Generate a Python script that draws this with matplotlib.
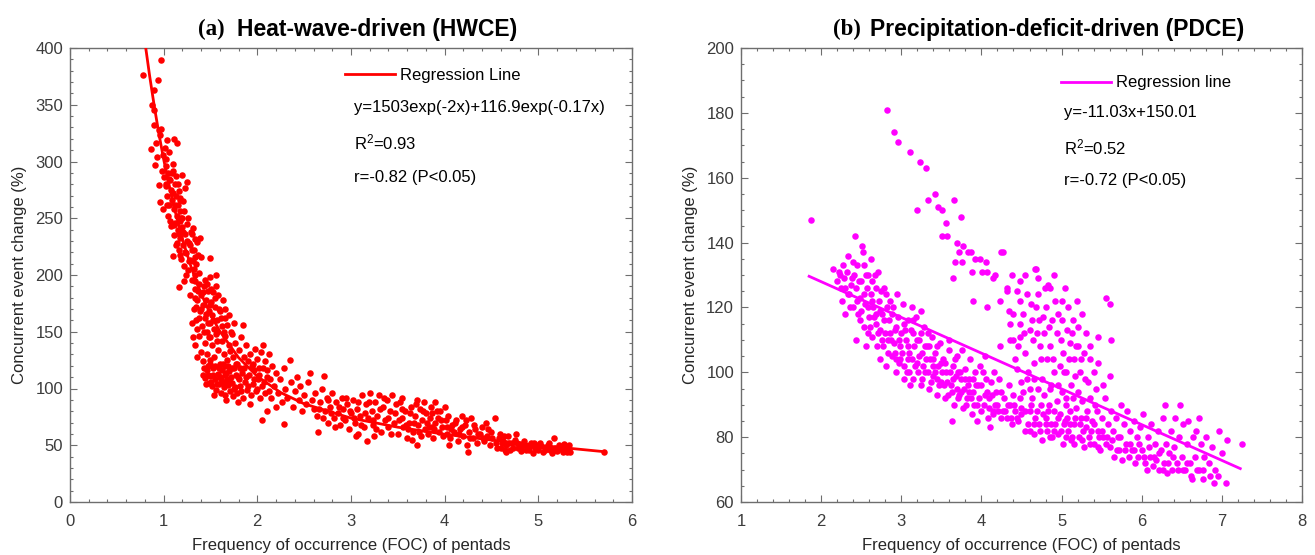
import numpy as np
import matplotlib
matplotlib.use("Agg")
import matplotlib.pyplot as plt
from matplotlib.ticker import MultipleLocator

plt.rcParams['font.family'] = ['Liberation Sans', 'DejaVu Sans']
plt.rcParams['mathtext.default'] = 'regular'

# ---- data: (FOC, change %) ----
hwce_points = [
    (0.78, 376), (0.97, 389), (0.94, 372), (0.90, 363), (0.88, 350), (0.90, 345), (0.90, 332),
    (0.95, 328), (0.97, 329), (0.96, 323), (0.87, 311), (0.92, 316), (0.93, 304), (1.04, 319),
    (1.11, 320), (1.14, 316), (1.01, 312), (0.99, 306), (1.03, 302), (1.06, 308),
    (0.91, 297), (0.95, 279), (0.96, 264), (0.99, 258), (0.98, 292), (1.00, 286), (1.02, 296),
    (1.03, 280), (1.04, 270), (1.05, 290), (1.06, 262), (1.07, 284), (1.08, 275), (1.09, 266),
    (1.10, 292), (1.11, 258), (1.12, 280), (1.13, 270), (1.14, 252), (1.15, 262), (1.16, 274),
    (1.17, 256), (1.20, 288), (1.25, 282), (1.23, 277), (1.21, 265), (1.05, 252), (1.10, 298),
    (1.18, 268), (1.13, 287),
    (1.08, 243), (1.10, 217), (1.11, 235), (1.12, 246), (1.14, 228), (1.15, 240), (1.16, 222),
    (1.17, 248), (1.18, 233), (1.19, 214), (1.20, 242), (1.21, 226), (1.22, 208), (1.23, 236),
    (1.24, 219), (1.25, 245), (1.26, 204), (1.27, 228), (1.28, 213), (1.29, 238), (1.31, 241),
    (1.30, 222), (1.32, 205), (1.34, 216), (1.36, 229), (1.39, 233), (1.40, 216), (1.50, 215),
    (1.56, 200), (1.38, 202), (1.20, 250), (1.24, 200), (1.33, 232),
    (1.02, 278), (1.04, 262), (1.06, 285), (1.07, 248), (1.09, 290), (1.10, 272), (1.11, 244),
    (1.12, 262), (1.13, 226), (1.15, 280), (1.16, 236), (1.17, 266), (1.18, 218), (1.19, 250),
    (1.21, 238), (1.22, 256), (1.23, 220), (1.25, 230), (1.26, 250), (1.27, 212), (1.28, 226),
    (1.30, 236), (1.31, 212), (1.32, 222), (1.33, 200), (1.35, 210), (1.37, 218), (1.34, 195),
    (1.16, 189), (1.22, 195), (1.28, 182), (1.30, 196), (1.32, 170), (1.34, 188), (1.35, 160),
    (1.36, 178), (1.38, 192), (1.39, 168), (1.40, 182), (1.41, 155), (1.42, 174), (1.43, 190),
    (1.44, 162), (1.45, 178), (1.46, 150), (1.47, 186), (1.48, 168), (1.49, 198), (1.50, 158),
    (1.51, 176), (1.52, 165), (1.53, 185), (1.54, 152), (1.55, 172), (1.57, 160), (1.58, 182),
    (1.60, 168), (1.62, 155), (1.63, 178), (1.65, 162), (1.36, 152), (1.30, 158), (1.44, 196),
    (1.56, 190),
    (1.33, 180), (1.35, 172), (1.37, 186), (1.38, 162), (1.40, 170), (1.42, 185), (1.43, 150),
    (1.45, 166), (1.46, 192), (1.47, 158), (1.49, 174), (1.50, 145), (1.51, 188), (1.53, 160),
    (1.55, 180), (1.57, 150), (1.59, 170), (1.61, 162), (1.64, 150), (1.66, 170), (1.68, 156),
    (1.70, 165), (1.73, 148), (1.75, 158),
    (1.31, 145), (1.34, 138), (1.36, 128), (1.38, 146), (1.40, 132), (1.42, 124), (1.44, 140),
    (1.46, 130), (1.48, 145), (1.50, 125), (1.52, 138), (1.54, 128), (1.56, 148), (1.58, 134),
    (1.60, 122), (1.62, 142), (1.64, 130), (1.66, 146), (1.68, 125), (1.70, 138), (1.72, 150),
    (1.74, 128), (1.76, 140), (1.78, 122), (1.80, 134), (1.83, 145), (1.85, 156), (1.86, 128),
    (1.88, 138), (1.90, 124), (1.47, 120), (1.57, 142), (1.65, 120), (1.71, 133),
    (1.42, 112), (1.44, 109), (1.46, 116), (1.48, 105), (1.50, 111), (1.52, 102), (1.53, 118),
    (1.55, 108), (1.56, 99), (1.58, 113), (1.59, 104), (1.60, 110), (1.61, 96), (1.62, 116),
    (1.63, 106), (1.64, 101), (1.65, 112), (1.66, 94), (1.67, 90), (1.68, 108), (1.69, 103),
    (1.70, 115), (1.71, 98), (1.72, 110), (1.73, 105), (1.74, 93), (1.75, 118), (1.76, 101),
    (1.77, 112), (1.78, 96), (1.80, 108), (1.82, 102), (1.84, 114), (1.85, 92), (1.87, 106),
    (1.89, 99), (1.91, 112), (1.93, 94), (1.95, 104), (1.97, 116), (1.99, 98), (2.01, 108),
    (2.03, 92), (2.05, 102), (2.06, 118), (2.08, 96), (2.10, 110), (1.54, 94), (1.79, 88),
    (1.92, 86),
    (1.43, 118), (1.45, 104), (1.47, 112), (1.49, 122), (1.51, 106), (1.53, 112), (1.55, 120),
    (1.57, 104), (1.59, 118), (1.61, 108), (1.63, 122), (1.65, 104), (1.67, 114), (1.69, 120),
    (1.71, 106), (1.73, 118), (1.75, 100), (1.77, 122), (1.79, 110), (1.81, 118), (1.83, 98),
    (1.86, 118), (1.88, 110), (1.90, 102), (1.94, 120), (1.96, 108), (2.00, 100), (2.02, 112),
    (2.07, 106), (2.12, 98),
    (1.92, 130), (1.95, 122), (1.98, 135), (2.00, 126), (2.02, 118), (2.04, 132), (2.06, 138),
    (2.08, 124), (2.10, 116), (2.12, 130), (2.14, 108), (2.16, 120), (2.18, 102), (2.20, 114),
    (2.22, 96), (2.24, 108), (2.26, 88), (2.28, 118), (2.30, 100), (2.32, 92), (2.35, 125),
    (2.36, 106), (2.38, 84), (2.40, 98), (2.42, 110), (2.44, 90), (2.46, 102), (2.48, 80),
    (2.50, 94), (2.52, 86), (2.54, 106), (2.56, 114), (2.58, 90), (2.60, 82), (2.05, 72),
    (2.29, 69), (2.10, 80), (2.20, 84), (2.15, 92),
    (2.62, 96), (2.64, 76), (2.65, 62), (2.67, 88), (2.69, 100), (2.71, 111), (2.72, 80),
    (2.74, 92), (2.76, 70), (2.78, 84), (2.80, 96), (2.82, 74), (2.84, 88), (2.86, 78),
    (2.88, 68), (2.90, 92), (2.92, 82), (2.94, 72), (2.96, 86), (2.98, 64), (3.00, 78),
    (3.02, 90), (3.04, 70), (3.06, 82), (3.08, 60), (3.10, 76), (3.12, 94), (3.14, 66),
    (3.16, 86), (3.17, 54), (3.18, 74), (3.20, 96), (3.22, 80), (3.24, 68), (3.26, 88),
    (3.28, 76), (3.30, 94), (3.32, 62), (3.34, 84), (3.36, 72), (3.38, 90), (3.40, 66),
    (3.42, 80), (3.44, 94), (3.46, 70), (3.48, 86),
    (2.66, 82), (2.70, 74), (2.75, 90), (2.79, 78), (2.83, 66), (2.87, 84), (2.91, 74),
    (2.95, 92), (2.99, 80), (3.03, 74), (3.07, 88), (3.11, 68), (3.15, 78), (3.19, 88),
    (3.23, 72), (3.27, 64), (3.31, 82), (3.35, 92), (3.39, 74), (3.43, 60), (3.47, 78),
    (3.05, 58), (3.25, 58),
    (3.50, 60), (3.52, 88), (3.54, 74), (3.56, 66), (3.58, 80), (3.60, 56), (3.62, 70),
    (3.64, 84), (3.66, 62), (3.68, 76), (3.70, 50), (3.71, 90), (3.72, 68), (3.74, 82),
    (3.75, 58), (3.76, 72), (3.78, 88), (3.79, 64), (3.80, 78), (3.82, 60), (3.84, 74),
    (3.85, 84), (3.86, 66), (3.88, 56), (3.90, 70), (3.92, 80), (3.94, 62), (3.96, 72),
    (3.98, 58), (4.00, 84), (4.02, 66), (4.04, 76), (4.06, 56), (4.08, 68), (4.10, 62),
    (4.12, 72), (4.14, 54), (4.16, 64), (4.18, 76), (4.20, 58), (4.22, 68), (4.24, 50),
    (4.25, 44), (4.26, 62), (4.28, 74), (4.30, 56), (4.32, 64), (4.35, 52), (4.38, 60),
    (4.40, 66), (4.42, 54), (4.45, 58), (4.48, 50), (4.50, 62), (4.54, 74), (3.55, 92),
    (3.65, 55), (3.90, 88), (4.05, 50),
    (3.51, 72), (3.55, 82), (3.59, 68), (3.63, 78), (3.67, 70), (3.69, 86), (3.73, 62),
    (3.77, 80), (3.81, 70), (3.83, 66), (3.87, 78), (3.89, 64), (3.93, 74), (3.97, 66),
    (4.01, 72), (4.03, 60), (4.07, 64), (4.11, 70), (4.15, 60), (4.19, 66), (4.23, 72),
    (4.27, 56), (4.31, 68), (4.36, 60), (4.41, 56), (4.46, 64), (4.51, 56), (4.44, 70),
    (3.95, 80), (3.61, 64),
    (4.55, 52), (4.58, 56), (4.60, 48), (4.62, 54), (4.65, 50), (4.68, 58), (4.70, 46),
    (4.72, 52), (4.75, 55), (4.78, 48), (4.80, 51), (4.82, 45), (4.85, 54), (4.88, 49),
    (4.90, 46), (4.92, 52), (4.94, 43), (4.96, 48), (4.98, 50), (5.00, 46), (5.02, 52),
    (5.05, 44), (5.08, 48), (5.10, 50), (5.12, 46), (5.15, 43), (5.17, 56), (5.18, 48),
    (5.20, 45), (5.22, 50), (5.24, 47), (5.26, 44), (5.28, 49), (5.30, 46), (5.32, 48),
    (5.34, 44), (5.70, 44), (4.76, 60), (4.66, 44),
    (4.56, 48), (4.61, 52), (4.64, 46), (4.69, 52), (4.73, 48), (4.77, 52), (4.81, 48),
    (4.84, 50), (4.87, 46), (4.91, 49), (4.95, 52), (4.99, 47), (5.03, 49), (5.07, 46),
    (5.11, 52), (5.14, 48), (5.19, 46), (5.23, 48), (5.27, 51), (5.31, 44), (5.33, 50),
    (4.59, 60), (4.63, 58),
]

# regression curve of panel (a)
hwce_fit_x = [0.80, 0.85, 0.90, 0.95, 1.00, 1.10, 1.20, 1.30, 1.40, 1.50, 1.60, 1.80,
              2.00, 2.25, 2.50, 3.00, 3.50, 4.00, 4.50, 5.00, 5.67]
hwce_fit_y = [405.5, 375.8, 348.8, 324.3, 302.0, 263.5, 231.7, 205.3, 183.5, 165.4, 150.4,
              127.2, 110.7, 96.4, 86.5, 73.9, 65.9, 59.7, 54.6, 50.0, 44.6]

pdce_points = [
    (1.87, 147), (2.82, 181), (2.91, 174), (2.96, 171), (3.11, 168), (3.23, 165), (3.31, 163),
    (3.42, 155), (3.33, 153), (3.20, 150), (3.46, 151), (3.51, 150), (3.66, 153), (3.75, 148),
    (3.56, 146), (3.51, 142), (3.57, 142), (3.70, 140), (3.72, 137), (3.77, 139), (3.83, 137),
    (3.87, 137), (3.67, 134), (3.76, 134), (3.92, 135), (3.98, 135), (4.06, 134), (4.25, 137),
    (4.27, 137), (3.88, 131), (4.01, 131), (4.07, 131), (4.17, 130), (4.68, 132), (4.70, 129),
    (3.65, 129), (4.15, 129), (3.90, 122), (4.07, 120), (4.23, 122), (4.32, 125), (4.48, 122),
    (4.36, 115), (4.40, 110), (4.48, 111), (4.23, 108), (4.60, 113), (4.67, 132), (4.48, 128),
    (4.32, 126), (4.83, 127), (5.00, 122), (5.19, 122), (4.77, 117), (4.48, 115), (4.36, 110),
    (4.73, 108), (5.07, 113), (5.21, 108), (4.98, 102), (5.17, 99), (5.45, 103), (5.61, 99),
    (5.56, 123), (5.61, 121), (5.62, 110), (5.45, 111),
    (4.35, 119), (4.42, 104), (4.45, 125), (4.52, 118), (4.55, 106), (4.58, 100), (4.62, 121),
    (4.64, 110), (4.66, 103), (4.70, 124), (4.72, 116), (4.75, 98), (4.78, 112), (4.80, 120),
    (4.82, 104), (4.85, 126), (4.86, 108), (4.88, 116), (4.90, 100), (4.92, 122), (4.94, 112),
    (4.96, 96), (5.00, 116), (5.02, 106), (5.04, 126), (5.06, 100), (5.08, 120), (5.10, 109),
    (5.12, 96), (5.14, 116), (5.16, 104), (5.20, 114), (5.23, 100), (5.26, 118), (5.28, 106),
    (5.30, 112), (5.33, 97), (5.36, 108), (5.40, 100), (4.50, 97), (4.60, 95), (4.68, 120),
    (4.91, 130), (5.05, 92), (4.38, 130), (4.55, 130),
    (4.40, 118), (4.46, 108), (4.53, 112), (4.57, 124), (4.63, 116), (4.69, 112), (4.74, 104),
    (4.79, 126), (4.84, 114), (4.89, 104), (4.95, 118), (4.99, 110), (5.03, 100), (5.09, 104),
    (5.13, 112), (5.18, 108), (5.24, 104), (5.29, 98), (5.35, 104), (4.87, 96), (4.65, 98),
    (5.43, 95), (5.52, 96),
    (2.15, 132), (2.22, 131), (2.24, 130), (2.27, 133), (2.20, 128), (2.30, 126), (2.32, 131),
    (2.35, 124), (2.38, 129), (2.40, 120), (2.42, 142), (2.43, 126), (2.45, 133), (2.46, 118),
    (2.48, 123), (2.50, 128), (2.51, 139), (2.52, 137), (2.53, 133), (2.54, 114), (2.55, 121),
    (2.57, 126), (2.59, 130), (2.60, 117), (2.62, 135), (2.62, 124), (2.64, 111), (2.65, 120),
    (2.67, 130), (2.68, 115), (2.70, 108), (2.71, 131), (2.72, 122), (2.74, 113), (2.76, 118),
    (2.77, 108), (2.78, 126), (2.80, 112), (2.82, 120), (2.84, 106), (2.85, 116), (2.87, 110),
    (2.88, 105), (2.90, 120), (2.92, 113), (2.94, 104), (2.96, 117), (2.98, 108), (3.00, 112),
    (3.02, 121), (3.04, 102), (3.06, 110), (3.07, 100), (3.08, 116), (3.10, 106), (3.12, 113),
    (3.14, 98), (3.16, 108), (3.18, 117), (3.20, 103), (3.22, 110), (3.24, 96), (3.26, 106),
    (3.28, 114), (3.30, 100), (3.32, 108), (3.34, 95), (3.36, 104), (3.38, 111), (3.40, 99),
    (3.42, 106), (3.44, 93), (3.46, 102), (3.48, 109), (3.50, 97), (2.58, 112), (2.36, 120),
    (2.73, 104), (2.93, 100), (3.11, 96), (2.26, 122), (2.44, 110),
    (2.49, 116), (2.56, 108), (2.63, 128), (2.69, 118), (2.75, 125), (2.81, 102), (2.86, 122),
    (2.91, 109), (2.97, 103), (3.03, 115), (3.09, 104), (3.15, 112), (3.21, 100), (3.27, 102),
    (3.33, 112), (3.39, 102), (3.45, 98), (3.13, 120), (3.25, 119), (2.95, 124),
    (2.25, 126), (2.29, 129), (2.33, 124), (2.37, 127), (2.41, 130), (2.45, 122), (2.47, 128),
    (2.50, 119), (2.53, 124), (2.56, 130), (2.58, 120), (2.61, 114), (2.63, 122), (2.66, 117),
    (2.68, 126), (2.71, 112), (2.73, 119), (2.76, 110), (2.79, 116), (2.81, 124), (2.83, 110),
    (2.86, 112), (2.89, 118), (2.92, 106), (2.94, 114), (2.97, 110), (2.99, 104), (2.40, 134),
    (2.34, 136), (2.30, 118),
    (3.01, 106), (3.03, 98), (3.05, 113), (3.08, 108), (3.10, 100), (3.13, 104), (3.15, 116),
    (3.17, 102), (3.19, 110), (3.22, 105), (3.24, 112), (3.26, 98), (3.29, 108), (3.31, 104),
    (3.33, 100), (3.35, 108), (3.37, 97), (3.40, 104), (3.42, 100), (3.44, 108), (3.47, 96),
    (3.49, 103),
    (3.52, 104), (3.54, 92), (3.56, 100), (3.58, 93), (3.60, 107), (3.62, 96), (3.64, 102),
    (3.66, 90), (3.68, 99), (3.70, 105), (3.72, 93), (3.74, 98), (3.76, 107), (3.77, 89),
    (3.78, 95), (3.80, 101), (3.82, 92), (3.84, 98), (3.86, 104), (3.88, 87), (3.90, 94),
    (3.92, 100), (3.94, 90), (3.96, 96), (3.98, 102), (4.00, 88), (4.02, 100), (4.04, 93),
    (4.06, 98), (4.08, 86), (4.10, 92), (4.12, 97), (4.14, 88), (4.15, 87), (4.18, 94),
    (4.20, 90), (4.22, 98), (4.25, 86), (4.28, 92), (4.30, 88), (4.32, 86), (4.34, 96),
    (4.36, 90), (4.38, 84), (4.40, 93), (4.42, 88), (4.44, 101), (4.46, 85), (4.48, 92),
    (4.50, 87), (3.59, 110), (3.71, 100), (3.83, 96), (3.95, 85), (4.05, 105), (4.16, 100),
    (3.63, 85), (3.87, 92), (4.11, 83),
    (3.51, 100), (3.53, 96), (3.55, 103), (3.57, 97), (3.61, 100), (3.63, 94), (3.65, 98),
    (3.67, 104), (3.69, 95), (3.71, 92), (3.73, 100), (3.75, 94), (3.79, 98), (3.81, 90),
    (3.85, 94), (3.89, 98), (3.91, 90), (3.93, 96), (3.97, 92), (3.99, 96), (4.03, 90),
    (4.07, 94), (4.09, 89), (4.13, 93), (4.17, 90), (4.21, 88), (4.24, 94), (4.27, 88),
    (4.33, 90), (4.37, 86), (4.41, 90), (4.45, 86), (4.49, 89),
    (4.52, 94), (4.55, 82), (4.57, 98), (4.60, 88), (4.61, 82), (4.63, 92), (4.65, 81),
    (4.67, 86), (4.70, 95), (4.72, 84), (4.74, 90), (4.76, 79), (4.78, 93), (4.80, 86),
    (4.82, 82), (4.84, 90), (4.86, 95), (4.88, 80), (4.90, 88), (4.92, 84), (4.94, 91),
    (4.96, 81), (4.98, 87), (5.00, 94), (5.02, 78), (5.04, 85), (5.06, 90), (5.08, 82),
    (5.10, 88), (5.12, 79), (5.14, 92), (5.16, 84), (5.18, 89), (5.21, 94), (5.22, 80),
    (5.24, 86), (5.26, 91), (5.28, 77), (5.30, 83), (5.32, 88), (5.34, 80), (5.36, 92),
    (5.38, 85), (5.40, 78), (5.42, 90), (5.44, 88), (5.46, 82), (5.48, 76), (5.50, 86),
    (5.52, 80), (5.54, 92), (5.56, 78), (5.58, 84), (5.61, 77), (5.62, 88), (5.64, 82),
    (5.66, 74), (5.68, 86), (5.70, 80), (5.72, 76), (5.74, 90), (5.76, 73), (5.78, 84),
    (5.80, 78), (5.82, 88), (5.84, 74), (5.86, 82), (5.88, 76), (5.90, 85), (5.92, 72),
    (5.94, 80), (5.96, 74), (5.98, 83), (6.00, 76), (6.02, 87), (6.04, 72), (6.07, 70),
    (6.08, 80), (6.10, 74), (6.12, 84), (6.14, 71), (6.16, 78), (6.18, 73), (6.20, 82),
    (6.22, 70), (6.24, 76), (6.26, 86), (6.28, 72), (6.29, 90), (6.30, 78), (6.32, 69),
    (6.34, 75), (6.36, 82), (6.38, 70), (6.40, 77), (6.42, 86), (6.44, 72), (6.46, 80),
    (6.48, 90), (6.50, 74), (6.52, 84), (6.54, 70), (6.56, 78), (6.58, 85), (6.60, 72),
    (6.63, 67), (6.64, 80), (6.66, 74), (6.68, 82), (6.71, 86), (6.72, 70), (6.74, 78),
    (6.76, 67), (6.78, 74), (6.80, 80), (6.84, 72), (6.88, 77), (6.90, 66), (6.92, 70),
    (6.96, 82), (7.00, 75), (7.05, 66), (7.07, 79), (7.25, 78), (5.15, 78), (5.45, 77),
    (5.25, 79), (5.05, 80), (4.85, 80), (5.35, 78),
    (4.54, 88), (4.58, 84), (4.62, 90), (4.66, 84), (4.69, 88), (4.73, 82), (4.77, 87),
    (4.81, 84), (4.83, 88), (4.87, 84), (4.91, 82), (4.95, 86), (4.99, 82), (5.03, 84),
    (5.07, 86), (5.11, 84), (5.13, 80), (5.17, 86), (5.23, 84), (5.27, 82), (5.31, 86),
    (5.37, 82), (5.41, 84), (5.47, 80), (5.51, 82), (5.57, 80), (5.63, 79), (5.69, 76),
    (5.73, 80), (5.79, 76), (5.85, 78), (5.91, 76), (5.97, 78), (6.03, 74), (6.09, 77),
    (6.15, 74), (6.21, 75), (6.27, 70), (6.33, 72), (6.39, 74), (6.45, 70), (6.51, 70),
    (6.57, 72), (6.61, 68), (6.69, 70), (6.77, 70), (6.85, 68), (6.95, 68),
]

# regression line of panel (b), end points
pdce_fit_x = [1.85, 7.23]
pdce_fit_y = [129.6, 70.3]

hwce_x, hwce_y = zip(*hwce_points)
pdce_x, pdce_y = zip(*pdce_points)

RED = '#ff0000'
MAGENTA = '#ff00ff'
AXCOL = '#6e6e6e'
TXT = '#262626'


def style_axes(ax, xmaj, xmin, ymaj, ymin):
    ax.xaxis.set_major_locator(MultipleLocator(xmaj))
    ax.xaxis.set_minor_locator(MultipleLocator(xmin))
    ax.yaxis.set_major_locator(MultipleLocator(ymaj))
    ax.yaxis.set_minor_locator(MultipleLocator(ymin))
    ax.tick_params(which='both', direction='in', top=True, right=True,
                   color=AXCOL, labelsize=12, labelcolor='#3c3c3c', width=0.8)
    ax.tick_params(which='major', length=5)
    ax.tick_params(which='minor', length=2.5)
    ax.tick_params(axis='x', which='both', pad=9)
    ax.tick_params(axis='y', which='both', pad=5)
    for s in ax.spines.values():
        s.set_color(AXCOL)
        s.set_linewidth(1.0)
    ax.set_xlabel('Frequency of occurrence (FOC) of pentads', fontsize=12, color=TXT, labelpad=6)
    ax.set_ylabel('Concurrent event change (%)', fontsize=12, color=TXT, labelpad=6)


fig = plt.figure(figsize=(13.15, 5.55), dpi=100)
ax1 = fig.add_axes([0.0532, 0.0955, 0.4274, 0.818])
ax2 = fig.add_axes([0.5635, 0.0955, 0.4266, 0.818])

# (a) HWCE
ax1.scatter(hwce_x, hwce_y, s=22, color=RED, linewidths=0, zorder=2)
ax1.plot(hwce_fit_x, hwce_fit_y, color=RED, lw=2, label='Regression Line', zorder=3)
ax1.set_xlim(0, 6)
ax1.set_ylim(0, 400)
style_axes(ax1, 1, 0.2, 50, 10)
ax1.legend(loc='center left', bbox_to_anchor=(0.49, 0.94), frameon=False, fontsize=12,
           handlelength=3.0, handletextpad=0.3, borderpad=0, borderaxespad=0)
ax1.text(0.505, 0.87, 'y=1503exp(-2x)+116.9exp(-0.17x)', transform=ax1.transAxes,
         fontsize=12, va='center', color='black')
ax1.text(0.505, 0.791, r'R$^{2}$=0.93', transform=ax1.transAxes,
         fontsize=12, va='center', color='black')
ax1.text(0.505, 0.714, 'r=-0.82 (P<0.05)', transform=ax1.transAxes,
         fontsize=12, va='center', color='black')
ax1.text(0.227, 1.04, '(a)', transform=ax1.transAxes, fontsize=16.5, fontweight='bold',
         family='Liberation Serif', va='center', ha='left')
ax1.text(0.297, 1.04, 'Heat-wave-driven (HWCE)', transform=ax1.transAxes, fontsize=16.5,
         fontweight='bold', va='center', ha='left')

# (b) PDCE
ax2.scatter(pdce_x, pdce_y, s=22, color=MAGENTA, linewidths=0, zorder=2)
ax2.plot(pdce_fit_x, pdce_fit_y, color=MAGENTA, lw=2, label='Regression line', zorder=3)
ax2.set_xlim(1, 8)
ax2.set_ylim(60, 200)
style_axes(ax2, 1, 0.2, 20, 5)
ax2.legend(loc='center left', bbox_to_anchor=(0.57, 0.923), frameon=False, fontsize=12,
           handlelength=3.0, handletextpad=0.3, borderpad=0, borderaxespad=0)
ax2.text(0.575, 0.857, 'y=-11.03x+150.01', transform=ax2.transAxes,
         fontsize=12, va='center', color='black')
ax2.text(0.575, 0.782, r'R$^{2}$=0.52', transform=ax2.transAxes,
         fontsize=12, va='center', color='black')
ax2.text(0.575, 0.709, 'r=-0.72 (P<0.05)', transform=ax2.transAxes,
         fontsize=12, va='center', color='black')
ax2.text(0.164, 1.04, '(b)', transform=ax2.transAxes, fontsize=16.5, fontweight='bold',
         family='Liberation Serif', va='center', ha='left')
ax2.text(0.23, 1.04, 'Precipitation-deficit-driven (PDCE)', transform=ax2.transAxes,
         fontsize=16.5, fontweight='bold', va='center', ha='left')

fig.savefig('out.png', dpi=100)
